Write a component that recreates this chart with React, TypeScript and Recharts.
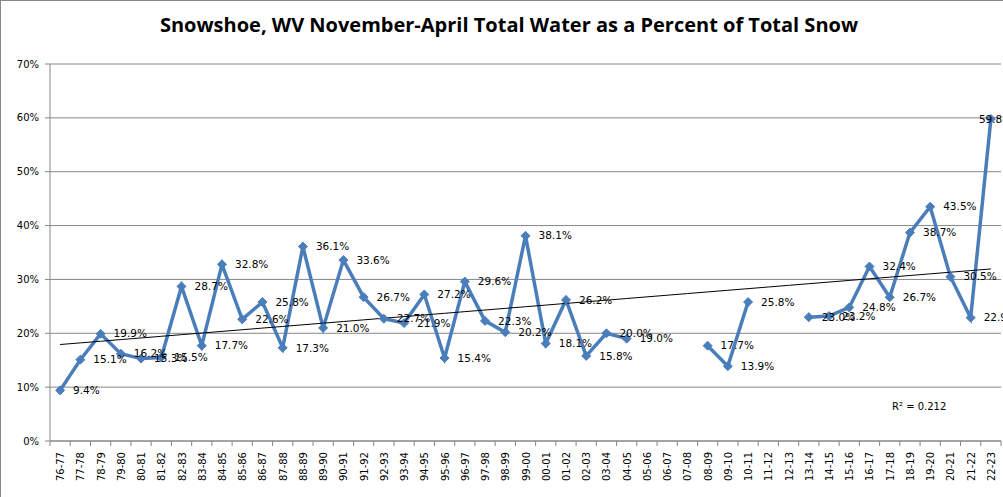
import { LineChart, Line, XAxis, YAxis, CartesianGrid, LabelList } from 'recharts';

const seasons = [
  '76-77', '77-78', '78-79', '79-80', '80-81', '81-82', '82-83', '83-84', '84-85', '85-86',
  '86-87', '87-88', '88-89', '89-90', '90-91', '91-92', '92-93', '93-94', '94-95', '95-96',
  '96-97', '97-98', '98-99', '99-00', '00-01', '01-02', '02-03', '03-04', '04-05', '05-06',
  '06-07', '07-08', '08-09', '09-10', '10-11', '11-12', '12-13', '13-14', '14-15', '15-16',
  '16-17', '17-18', '18-19', '19-20', '20-21', '21-22', '22-23',
];

// water as % of snow, null = season not recorded
const waterPct: (number | null)[] = [
  9.4, 15.1, 19.9, 16.2, 15.3, 15.5, 28.7, 17.7, 32.8, 22.6,
  25.8, 17.3, 36.1, 21.0, 33.6, 26.7, 22.7, 21.9, 27.2, 15.4,
  29.6, 22.3, 20.2, 38.1, 18.1, 26.2, 15.8, 20.0, 19.0, null,
  null, null, 17.7, 13.9, 25.8, null, null, 23.0, 23.2, 24.8,
  32.4, 26.7, 38.7, 43.5, 30.5, 22.9, 59.8,
];

const yTicks = [0, 10, 20, 30, 40, 50, 60, 70];

// linear trendline (Excel style, x = 1..n)
const pts = waterPct
  .map((v, i) => ({ x: i + 1, y: v }))
  .filter((p) => p.y !== null) as { x: number; y: number }[];
const n = pts.length;
const mx = pts.reduce((s, p) => s + p.x, 0) / n;
const my = pts.reduce((s, p) => s + p.y, 0) / n;
const slope =
  pts.reduce((s, p) => s + (p.x - mx) * (p.y - my), 0) /
  pts.reduce((s, p) => s + (p.x - mx) ** 2, 0);
const intercept = my - slope * mx;

const data = seasons.map((s, i) => ({
  season: s,
  pct: waterPct[i],
  trend: intercept + slope * (i + 1),
}));

const AXIS = '#868686';
const FONT = '"DejaVu Sans", Verdana, sans-serif';
const HALF_STEP = 950 / seasons.length / 2;

const SeasonTick = (props: any) => {
  const { x, y, payload, index } = props;
  const last = index === seasons.length - 1;
  return (
    <g>
      <line x1={x - HALF_STEP} x2={x - HALF_STEP} y1={y} y2={y + 5} stroke={AXIS} />
      {last && <line x1={x + HALF_STEP} x2={x + HALF_STEP} y1={y} y2={y + 5} stroke={AXIS} />}
      <text
        x={x + 4}
        y={y + 11}
        transform={`rotate(-90, ${x + 4}, ${y + 11})`}
        textAnchor="end"
        fontSize={10}
        fontFamily={FONT}
        fill="#000"
      >
        {payload.value}
      </text>
    </g>
  );
};

const Diamond = (props: any) => {
  const { cx, cy, payload } = props;
  if (payload.pct === null || cx == null || cy == null) return null;
  const r = 4.5;
  return (
    <path
      d={`M${cx},${cy - r} L${cx + r},${cy} L${cx},${cy + r} L${cx - r},${cy} Z`}
      fill="#4A7EBB"
      stroke="#4A7EBB"
    />
  );
};

const ValueLabel = (props: any) => {
  const { x, y, value, index } = props;
  if (value === null || value === undefined) return null;
  // last label gets pushed back inside the chart, like Excel does
  const dx = index === seasons.length - 1 ? -12 : 13;
  return (
    <text
      x={x + dx}
      y={y}
      dy="0.35em"
      fontSize={10.5}
      fontFamily={FONT}
      fill="#000"
    >
      {`${Number(value).toFixed(1)}%`}
    </text>
  );
};

export default function App() {
  return (
    <div
      style={{
        position: 'absolute',
        left: 0,
        top: 0,
        width: 1003,
        height: 497,
        boxSizing: 'border-box',
        borderTop: '1px solid #888',
        borderLeft: '1px solid #888',
        background: '#fff',
        overflow: 'hidden',
      }}
    >
      <div
        style={{
          position: 'absolute',
          left: 0,
          width: 1016,
          top: 10,
          textAlign: 'center',
          fontFamily: '"Open Sans", sans-serif',
          fontWeight: 700,
          fontSize: 20,
          color: '#000',
        }}
      >
        Snowshoe, WV November-April Total Water as a Percent of Total Snow
      </div>
      <div
        style={{
          position: 'absolute',
          left: 891,
          top: 400,
          fontFamily: FONT,
          fontSize: 10,
          color: '#000',
        }}
      >
        R² = 0.212
      </div>
      <LineChart
        width={1002}
        height={496}
        data={data}
        margin={{ top: 63, right: 2, bottom: 0, left: 0 }}
      >
        <CartesianGrid horizontal vertical={false} stroke={AXIS} />
        <XAxis
          dataKey="season"
          interval={0}
          height={56}
          padding={{ left: HALF_STEP, right: HALF_STEP }}
          stroke={AXIS}
          tickLine={false}
          tickSize={0}
          tickMargin={0}
          tick={<SeasonTick />}
        />
        <YAxis
          domain={[0, 70]}
          ticks={yTicks}
          width={49}
          stroke={AXIS}
          tickSize={5}
          tickMargin={6}
          tickFormatter={(v) => `${v}%`}
          tick={{ fill: '#000', fontSize: 10, fontFamily: FONT }}
        />
        <Line
          dataKey="pct"
          stroke="#4A7EBB"
          strokeWidth={3.5}
          dot={<Diamond />}
          activeDot={false}
          connectNulls={false}
          isAnimationActive={false}
        >
          <LabelList dataKey="pct" content={<ValueLabel />} />
        </Line>
        <Line
          dataKey="trend"
          stroke="#000"
          strokeWidth={1}
          dot={false}
          activeDot={false}
          isAnimationActive={false}
        />
      </LineChart>
    </div>
  );
}
